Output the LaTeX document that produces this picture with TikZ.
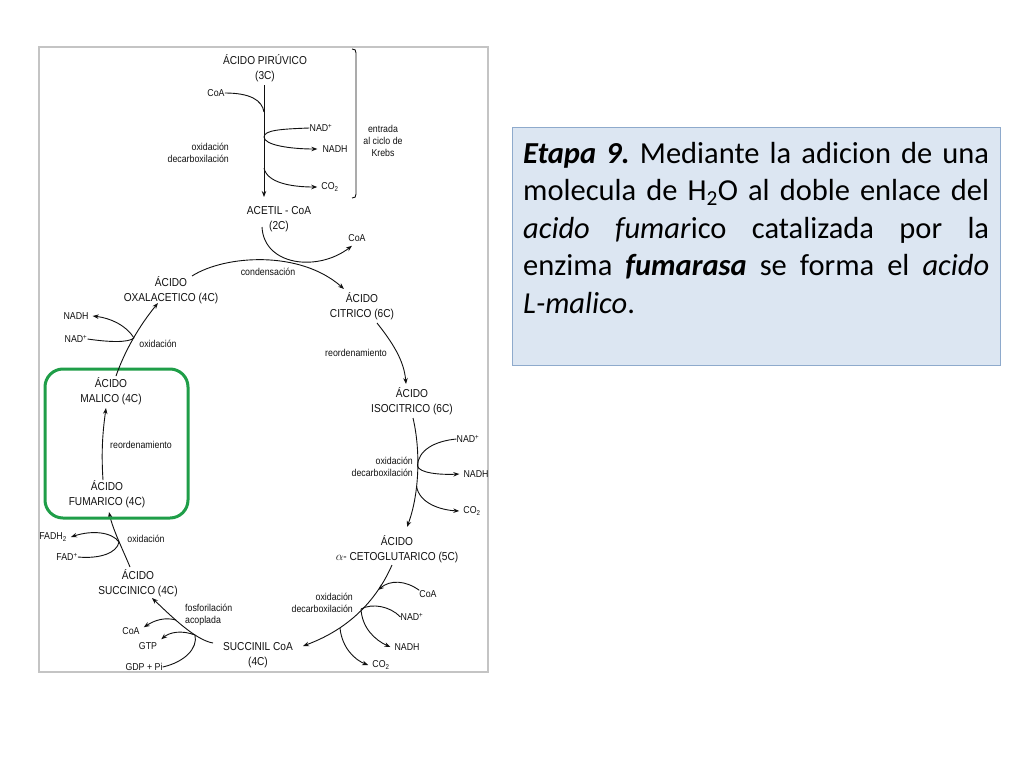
\documentclass[tikz,border=0pt]{standalone}
\usepackage{fontspec}
\usetikzlibrary{arrows.meta}
\newfontfamily\diag[FakeStretch=0.88]{Liberation Sans}
\newfontfamily\carlito{Carlito}
\definecolor{ink}{HTML}{111111}
\definecolor{framegray}{HTML}{C4C4C4}
\definecolor{boxfill}{HTML}{DCE6F2}
\definecolor{boxline}{HTML}{8EAACC}
\definecolor{hl}{HTML}{1F9E48}
\frenchspacing
\begin{document}
\begin{tikzpicture}[x=1pt,y=-1pt,
  main/.style={font=\diag\fontsize{11.5}{15}\selectfont, align=center, inner sep=0pt, text=ink},
  small/.style={font=\diag\fontsize{10}{12}\selectfont, inner sep=0pt, text=ink},
  arr/.style={draw=ink, line width=0.9pt, -{Stealth[length=6pt,width=4.5pt]}},
  ln/.style={draw=ink, line width=0.9pt}]
\fill[white] (0,0) rectangle (1024,768);
\useasboundingbox (0,0) rectangle (1024,768);

% frame of the diagram
\draw[framegray, line width=1.2pt] (39,47) rectangle (488,672);

% ---------- top: pyruvate -> acetyl-CoA ----------
\node[main] (pir) at (265,68) {ÁCIDO PIRÚVICO\\(3C)};
\node[main] (acetil) at (279,219) {ACETIL - CoA\\(2C)};
\node[small] (coa1) at (216,93) {CoA};
\node[small] (nad1) at (321,128) {NAD\textsuperscript{+}};
\node[small] (nadh1) at (335,149) {NADH};
\node[small] (co21) at (330,187) {CO\textsubscript{2}};
\node[small, align=right, anchor=east] (ox1) at (229,153) {oxidación\\decarboxilación};
\node[small, align=center] (entr) at (383,141) {entrada\\al ciclo de\\Krebs};
\coordinate (pirout) at (264,85);
\coordinate (acin) at (264,197);
\coordinate (j1) at (264,112);
\coordinate (j2) at (264,137);
\coordinate (j3) at (264,168);
\draw[arr] (pirout) -- (acin);
\draw[ln] (coa1.east) .. controls (250,93) and (262,100) .. (j1);
\draw[ln] (nad1.west) .. controls (282,129) and (264,130) .. (j2);
\draw[arr] (j2) .. controls (264,145) and (290,149) .. ([xshift=-5pt]nadh1.west);
\draw[arr] (j3) .. controls (267,183) and (292,187) .. ([xshift=-4pt]co21.west);
\draw[ln] (352,49) .. controls (355,49) and (356,50) .. (356,53) -- (356,194) .. controls (356,197) and (355,198) .. (352,198);

% ---------- condensation ----------
\node[main] (oxal) at (171,290) {ÁCIDO\\OXALACETICO (4C)};
\node[main] (citr) at (362,306) {ÁCIDO\\CITRICO (6C)};
\node[small] (coa2) at (357,238) {CoA};
\node[small] (cond) at (268,272) {condensación};
\coordinate (oxout) at (192,276);
\coordinate (citin) at (344,289);
\coordinate (acout) at (262,227);
\draw[arr] (oxout) .. controls (225,255) and (300,250) .. (citin);
\draw[arr] (acout) .. controls (264,266) and (318,272) .. ([xshift=-5pt,yshift=-4pt]coa2.south);

% ---------- citrate -> isocitrate ----------
\node[small] (reo1) at (356,353) {reordenamiento};
\node[main] (isoc) at (412,401) {ÁCIDO\\ISOCITRICO (6C)};
\draw[arr] (377,323) .. controls (392,342) and (404,360) .. (406,384);

% ---------- isocitrate -> alpha-ketoglutarate ----------
\node[small] (nad2) at (468,439) {NAD\textsuperscript{+}};
\node[small] (nadh2) at (476,474) {NADH};
\node[small] (co22) at (472,511) {CO\textsubscript{2}};
\node[small, align=right, anchor=east] (ox2) at (413,467) {oxidación\\decarboxilación};
\node[main] (ceto) at (397,549) {ÁCIDO\\$\alpha$- CETOGLUTARICO (5C)};
\coordinate (k1) at (417.5,466);
\coordinate (k2) at (416.5,486);
\draw[arr] (413,418) .. controls (421,452) and (419,495) .. (407,527);
\draw[ln] (nad2.west) .. controls (435,441) and (418,450) .. (k1);
\draw[arr] (k1) .. controls (419,473) and (440,475) .. ([xshift=-4pt]nadh2.west);
\draw[arr] (k2) .. controls (419,503) and (440,510) .. ([xshift=-4pt]co22.west);

% ---------- alpha-ketoglutarate -> succinyl-CoA ----------
\node[small] (coa3) at (428,594) {CoA};
\node[small] (nad3) at (412,617) {NAD\textsuperscript{+}};
\node[small] (nadh3) at (407,647) {NADH};
\node[small] (co23) at (381,665) {CO\textsubscript{2}};
\node[small, align=right, anchor=east] (ox3) at (353,603) {oxidación\\decarboxilación};
\node[main] (succl) at (258,655) {SUCCINIL CoA\\(4C)};
\coordinate (m1) at (378,590);
\coordinate (m2) at (361,609);
\coordinate (m3) at (340,628);
\draw[arr] (392,565) .. controls (378,597) and (352,628) .. (303,646);
\draw[arr] (coa3.north west) .. controls (405,580) and (390,580) .. (m1);
\draw[ln] (nad3.west) .. controls (390,606) and (372,603) .. (m2);
\draw[arr] (m2) .. controls (362,628) and (375,640) .. ([xshift=-4pt]nadh3.west);
\draw[arr] (m3) .. controls (342,648) and (355,660) .. ([xshift=-4pt]co23.west);

% ---------- succinyl-CoA -> succinate ----------
\node[small, align=left, anchor=west] (fosf) at (185,615) {fosforilación\\acoplada};
\node[main] (succo) at (138,583) {ÁCIDO\\SUCCINICO (4C)};
\node[small] (coa4) at (131,631) {CoA};
\node[small] (gtp) at (148,646) {GTP};
\node[small] (gdp) at (144,667) {GDP + Pi};
\coordinate (s1) at (176,620);
\coordinate (s2) at (195,635);
\draw[arr] (213,643) .. controls (195,640) and (170,615) .. (152,598);
\draw[arr] (s1) .. controls (165,617) and (155,620) .. ([xshift=4pt]coa4.north east);
\draw[arr] (s2) .. controls (182,630) and (170,632) .. ([xshift=4pt,yshift=3pt]gtp.north east);
\draw[ln] (gdp.east) .. controls (185,662) and (198,648) .. (s2);

% ---------- succinate -> fumarate ----------
\node[small] (fadh) at (53,537) {FADH\textsubscript{2}};
\node[small] (fad) at (67,557) {FAD\textsuperscript{+}};
\node[small] (oxid4) at (146,539) {oxidación};
\node[main] (fum) at (107,494) {ÁCIDO\\FUMARICO (4C)};
\coordinate (f1) at (119,542);
\draw[arr] (130,567) .. controls (123,550) and (113,530) .. (109,512);
\draw[arr] (f1) .. controls (112,532) and (92,530) .. ([xshift=4pt]fadh.east);
\draw[ln] (fad.east) .. controls (100,559) and (117,553) .. (f1);

% ---------- fumarate -> malate ----------
\node[small] (reo2) at (141,445) {reordenamiento};
\node[main] (mal) at (111,391) {ÁCIDO\\MALICO (4C)};
\draw[arr] (103,480) .. controls (101,450) and (103,430) .. (106,408);
\node[draw=hl, line width=3pt, rounded corners=18pt, minimum width=143pt, minimum height=149pt, inner sep=0pt] (hlbox) at (116.5,443.5) {};

% ---------- malate -> oxaloacetate ----------
\node[small] (nadh4) at (76,316) {NADH};
\node[small] (nad4) at (76,339) {NAD\textsuperscript{+}};
\node[small] (oxid5) at (158,344) {oxidación};
\coordinate (o1) at (134,338);
\draw[arr] (116,376) .. controls (125,350) and (140,325) .. (158,303);
\draw[arr] (o1) .. controls (126,325) and (110,318) .. ([xshift=4pt]nadh4.east);
\draw[ln] (nad4.east) .. controls (108,342) and (128,343) .. (o1);

% ---------- text box ----------
\node[draw=boxline, fill=boxfill, line width=1.3pt, minimum width=488pt, minimum height=238pt, anchor=north west, inner sep=0pt] (tb) at (512,127) {};
\node[anchor=base west, text width=466pt, inner sep=0pt, align=justify,
      font=\carlito\fontsize{30.5}{37.5}\selectfont] (txt) at (523,163)
 {\hyphenpenalty=10000 \frenchspacing \textbf{\textit{Etapa 9.}} Mediante la adicion de una\linebreak
  molecula de H\textsubscript{2}O al doble enlace del\linebreak
  \textit{acido fumar}ico catalizada por la\linebreak
  enzima \textbf{\textit{fumarasa}} se forma el \textit{acido}\linebreak
  \textit{L-malico}.};
\end{tikzpicture}
\end{document}
